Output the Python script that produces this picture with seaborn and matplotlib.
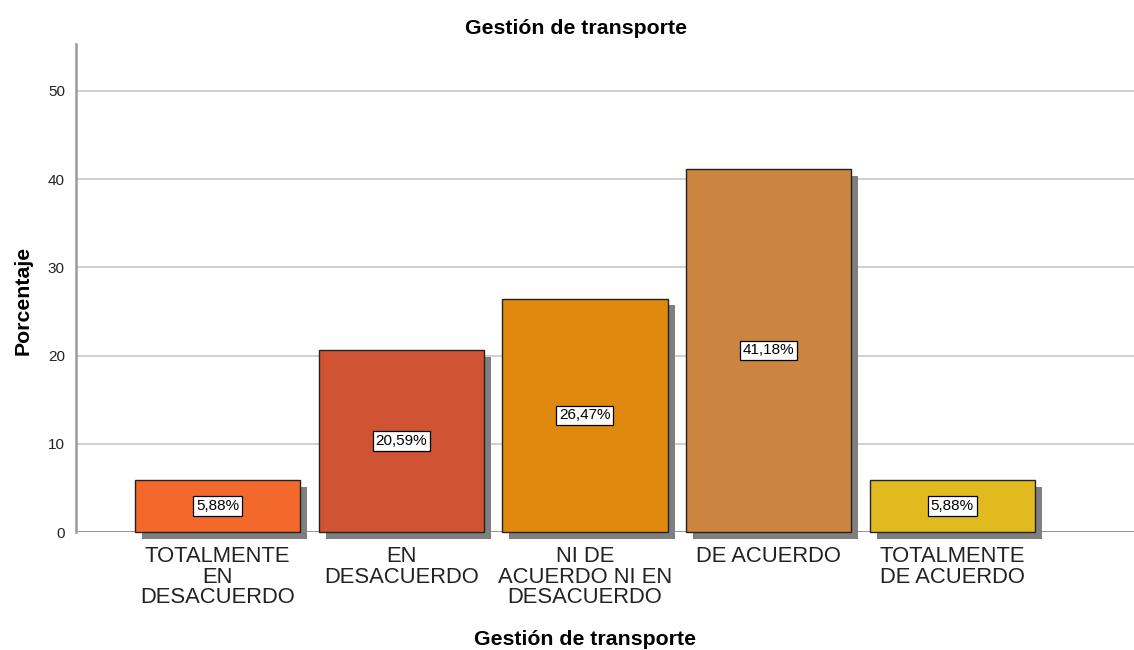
import matplotlib
matplotlib.use("Agg")
import matplotlib.pyplot as plt
import matplotlib.patheffects as pe
import seaborn as sns
import pandas as pd

categories = ["TOTALMENTE\nEN\nDESACUERDO", "EN\nDESACUERDO", "NI DE\nACUERDO NI EN\nDESACUERDO",
              "DE ACUERDO", "TOTALMENTE\nDE ACUERDO"]
percentages = [5.88, 20.59, 26.47, 41.18, 5.88]
bar_labels = ["5,88%", "20,59%", "26,47%", "41,18%", "5,88%"]
colors = ["#F2692B", "#D05434", "#E0890F", "#CB8540", "#E0BA1E"]
y_ticks = [0, 10, 20, 30, 40, 50]

sns.set_theme(style="white")
plt.rcParams["font.family"] = ["Liberation Sans", "DejaVu Sans"]

df = pd.DataFrame({"cat": categories, "pct": percentages})

fig = plt.figure(figsize=(11.34, 6.5), dpi=100)
ax = fig.add_axes([0.067, 0.1815, 0.933, 0.7505])

sns.barplot(data=df, x="cat", y="pct", hue="cat", palette=colors, legend=False,
            saturation=1, width=0.9, edgecolor="#222222", linewidth=1.0, ax=ax, zorder=3)

for p in ax.patches:
    p.set_clip_on(False)
    p.set_path_effects([pe.SimplePatchShadow(offset=(5, -5), shadow_rgbFace="#7f7f7f", alpha=1.0),
                        pe.Normal()])

for cont, lab in zip(ax.containers, bar_labels):
    ax.bar_label(cont, labels=[lab], label_type="center", fontsize=11, color="black",
                 bbox=dict(boxstyle="square,pad=0.18", facecolor="white", edgecolor="black", linewidth=0.9),
                 zorder=5)

ax.set_xlim(-0.772, 4.99)
ax.set_ylim(0, 55.3)
ax.set_yticks(y_ticks)
ax.yaxis.grid(True, color="#c8c8c8", linewidth=1.2, zorder=0)
ax.set_axisbelow(True)
ax.axhline(0, color="#8a8a8a", linewidth=1.2, zorder=2)

for s in ["top", "right", "bottom"]:
    ax.spines[s].set_visible(False)
ax.spines["left"].set_color("#999999")
ax.spines["left"].set_linewidth(1.8)

ax.tick_params(axis="y", length=0, pad=8, labelsize=11, colors="#222222")
ax.tick_params(axis="x", length=0, pad=10, labelsize=15.8, colors="#222222")
for t in ax.get_xticklabels():
    t.set_linespacing(0.98)

ax.set_title("Gestión de transporte", fontsize=15.3, fontweight="bold", pad=7, color="black")
ax.title.set_x(0.4726)
ax.set_xlabel("Gestión de transporte", fontsize=15.3, fontweight="bold", labelpad=16, color="black")
ax.xaxis.label.set_x(0.481)
ax.set_ylabel("Porcentaje", fontsize=15.3, fontweight="bold", color="black")
ax.yaxis.set_label_coords(-0.041, 0.475)

fig.savefig("out.png", dpi=100)
